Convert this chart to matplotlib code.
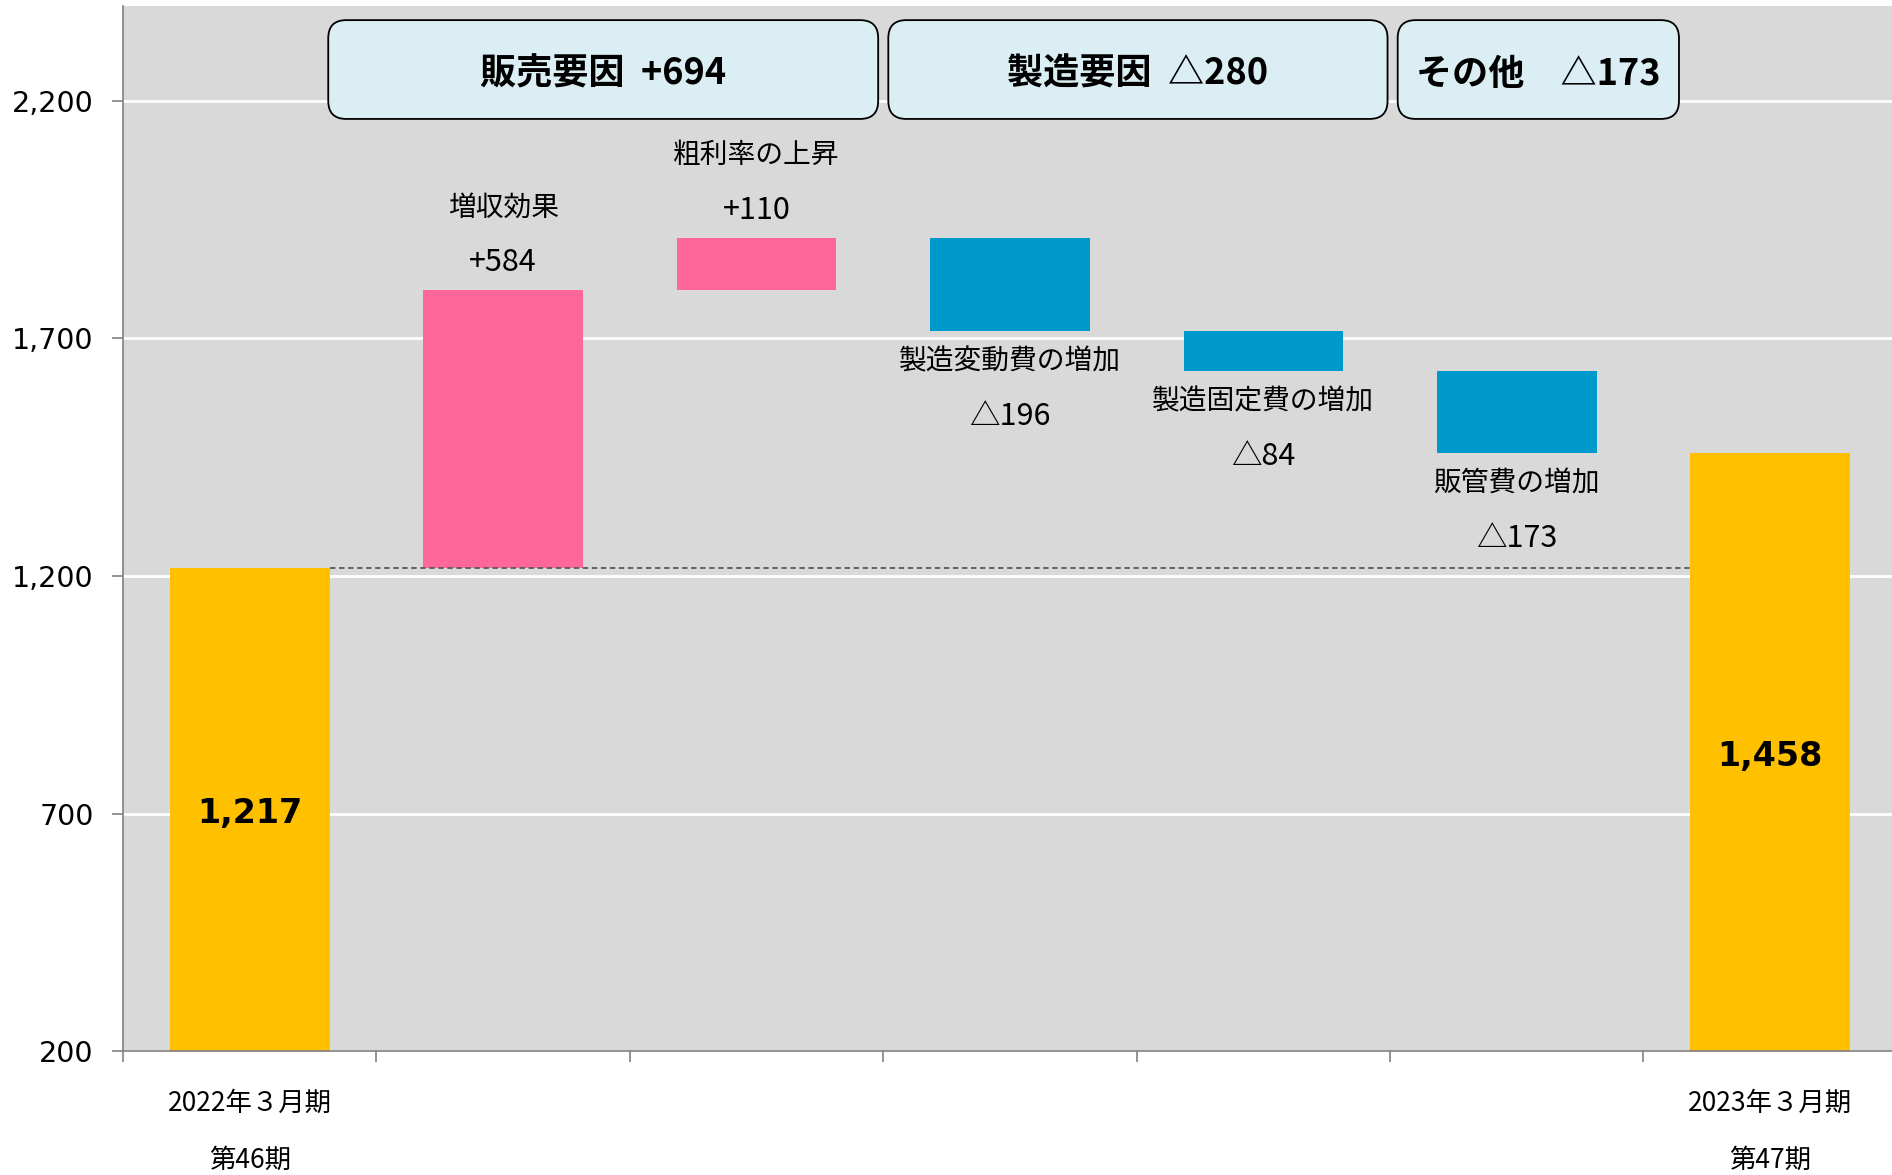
import numpy as np
import matplotlib.pyplot as plt
from matplotlib.patches import FancyBboxPatch

# data
start_value = 1217
end_value = 1458
deltas = [584, 110, -196, -84, -173]
delta_names = ['増収効果', '粗利率の上昇', '製造変動費の増加', '製造固定費の増加', '販管費の増加']
delta_texts = ['+584', '+110', '△196', '△84', '△173']
xlabels = ['2022年３月期\n第46期', '', '', '', '', '', '2023年３月期\n第47期']
group_texts = ['販売要因  +694', '製造要因  △280', 'その他　△173']
group_spans = [(0.31, 2.48), (2.52, 4.49), (4.53, 5.64)]
yticks = [200, 700, 1200, 1700, 2200]

YELLOW = '#FFC000'
PINK = '#FF6699'
BLUE = '#0099CC'
JP = ['Noto Sans CJK JP', 'DejaVu Sans']

plt.rcParams['font.family'] = ['DejaVu Sans', 'Noto Sans CJK JP']

fig = plt.figure(figsize=(18.92, 11.75), dpi=100)
ax = fig.add_axes([0.065, 0.1055, 0.9376, 0.8895])
ax.set_facecolor('#D9D9D9')
ax.set_xlim(-0.5, 6.5)
ax.set_ylim(200, 2400)

w = 0.63
# start and end bars
ax.bar(0, start_value - 200, bottom=200, width=w, color=YELLOW, zorder=2)
ax.bar(6, end_value - 200, bottom=200, width=w, color=YELLOW, zorder=2)
ax.text(0, (start_value + 200) / 2 - 8, f'{start_value:,}', ha='center', va='center',
        fontsize=24, fontweight='bold', zorder=4)
ax.text(6, (end_value + 200) / 2 - 8, f'{end_value:,}', ha='center', va='center',
        fontsize=24, fontweight='bold', zorder=4)

# step bars
level = start_value
for i, d in enumerate(deltas):
    x = i + 1
    lo = min(level, level + d)
    ax.bar(x, abs(d), bottom=lo, width=w, color=PINK if d > 0 else BLUE, zorder=2)
    if d > 0:
        top = level + d
        ax.text(x, top + 58, delta_texts[i], ha='center', va='center', fontsize=22, family=JP)
        ax.text(x, top + 175, delta_names[i], ha='center', va='center', fontsize=20, family=JP)
    else:
        bot = level + d
        ax.text(x, bot - 63, delta_names[i], ha='center', va='center', fontsize=20, family=JP)
        ax.text(x, bot - 180, delta_texts[i], ha='center', va='center', fontsize=22, family=JP)
    level += d

# dashed reference line
ax.plot([w / 2, 6 - w / 2], [start_value, start_value], color='#595959',
        lw=1.3, dashes=(3, 2), zorder=3)

# header boxes
bb = ax.get_window_extent()
xpp = 7 / bb.width
ypp = 2200 / bb.height
for txt, (x0, x1) in zip(group_texts, group_spans):
    y0, y1 = 2162, 2370
    box = FancyBboxPatch((x0, y0), x1 - x0, y1 - y0,
                         boxstyle=f'round,pad=0,rounding_size={18 * xpp}',
                         mutation_aspect=ypp / xpp,
                         facecolor='#DAEEF3', edgecolor='black', lw=1.3,
                         zorder=5, clip_on=False)
    ax.add_patch(box)
    ax.text((x0 + x1) / 2, (y0 + y1) / 2 - 10, txt, ha='center', va='center',
            fontsize=26, fontweight='bold', family=JP, zorder=6)

# axes styling
ax.set_yticks(yticks)
ax.set_yticklabels([f'{v:,}' for v in yticks], fontsize=20.5)
ax.yaxis.grid(True, color='white', lw=2)
ax.set_axisbelow(True)
ax.set_xticks(range(7))
ax.set_xticklabels(xlabels, fontsize=19, family=JP, linespacing=2.4)
ax.tick_params(axis='x', length=0, pad=28)
ax.set_xticks(np.arange(-0.5, 6.0, 1.0), minor=True)
ax.tick_params(axis='x', which='minor', length=8, color='#808080', width=1.2)
ax.tick_params(axis='y', length=8, color='#808080', width=1.2, pad=13)
for s in ['top', 'right']:
    ax.spines[s].set_visible(False)
for s in ['left', 'bottom']:
    ax.spines[s].set_color('#808080')
    ax.spines[s].set_linewidth(1.2)

fig.savefig('out.png', dpi=100)
